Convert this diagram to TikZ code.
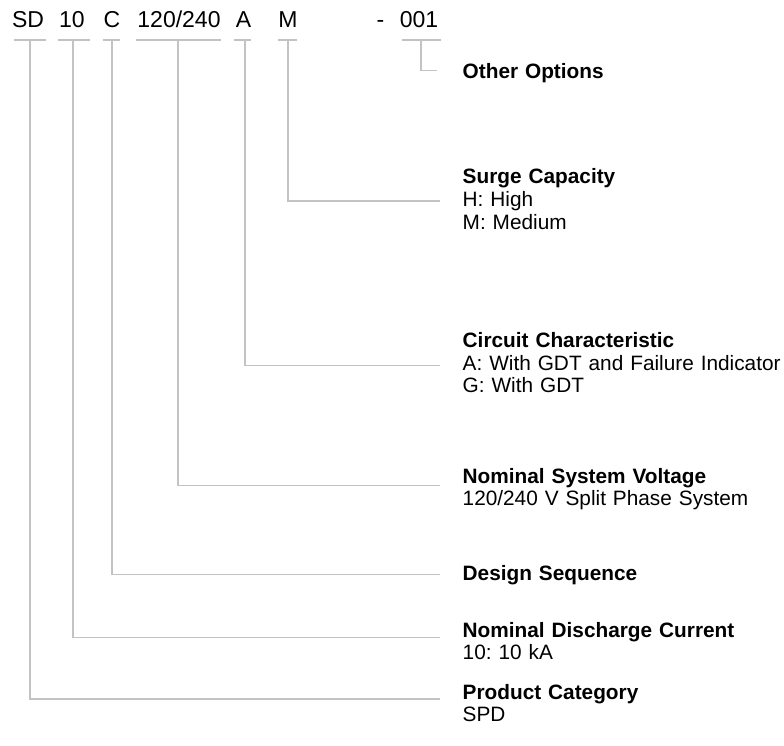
\documentclass[tikz,border=0pt]{standalone}
\usepackage{fontspec}
\setmainfont{Liberation Sans}
\definecolor{linegray}{RGB}{195,195,195}
\begin{document}
\frenchspacing
\begin{tikzpicture}[x=1pt,y=-1pt,
  code/.style={font=\fontsize{23}{26}\selectfont, inner sep=0pt, anchor=base},
  lab/.style={font=\fontsize{20.8}{22.6}\selectfont\frenchspacing, inner sep=0pt, anchor=base west, text width=330pt, align=left},
  uline/.style={draw=linegray, line width=1.3pt},
  conn/.style={draw=linegray, line width=1.3pt},
]
\useasboundingbox (0,0) rectangle (784,746);

% code letters
\node[code] (cSD)  at (28,27.7)   {SD};
\node[code] (c10)  at (72,27.7)   {10};
\node[code] (cC)   at (112,27.7)  {C};
\node[code] (cV)   at (179,27.7)  {120/240};
\node[code] (cA)   at (243.5,27.7) {A};
\node[code] (cM)   at (288,27.7)  {M};
\node[code] (cDash) at (380.5,27.7) {-};
\node[code] (cO)   at (419,27.7)  {001};

% underlines
\draw[uline] (14,40) -- (46,40);
\draw[uline] (58,40) -- (90,40);
\draw[uline] (103,40) -- (120,40);
\draw[uline] (136,40) -- (221,40);
\draw[uline] (234,40) -- (251,40);
\draw[uline] (278,40) -- (297,40);
\draw[uline] (402,40) -- (441,40);

% connector start points
\coordinate (uSD) at (30,40);
\coordinate (u10) at (73,40);
\coordinate (uC)  at (112,40);
\coordinate (uV)  at (178,40);
\coordinate (uA)  at (245,40);
\coordinate (uM)  at (288,40);
\coordinate (uO)  at (421,40);

% labels
\node[lab] (lO)  at (462.5,79)    {\textbf{Other Options}};
\node[lab] (lM)  at (462.5,184)   {\textbf{Surge Capacity}\\H: High\\M: Medium};
\node[lab] (lA)  at (462.5,347.7) {\textbf{Circuit Characteristic}\\A: With GDT and Failure Indicator\\G: With GDT};
\node[lab] (lV)  at (462.5,483.3) {\textbf{Nominal System Voltage}\\120/240 V Split Phase System};
\node[lab] (lC)  at (462.5,580.7) {\textbf{Design Sequence}};
\node[lab] (l10) at (462.5,637.3) {\textbf{Nominal Discharge Current}\\10: 10 kA};
\node[lab] (lSD) at (462.5,699.3) {\textbf{Product Category}\\SPD};

% connector end points
\coordinate (eO)  at (436.5,70.5);
\coordinate (eM)  at (440,201);
\coordinate (eA)  at (440,365.7);
\coordinate (eV)  at (440,485.8);
\coordinate (eC)  at (440,574.3);
\coordinate (e10) at (440,637.6);
\coordinate (eSD) at (440,699);

% connectors
\draw[conn] (uO)  |- (eO);
\draw[conn] (uM)  |- (eM);
\draw[conn] (uA)  |- (eA);
\draw[conn] (uV)  |- (eV);
\draw[conn] (uC)  |- (eC);
\draw[conn] (u10) |- (e10);
\draw[conn] (uSD) |- (eSD);
\end{tikzpicture}
\end{document}
